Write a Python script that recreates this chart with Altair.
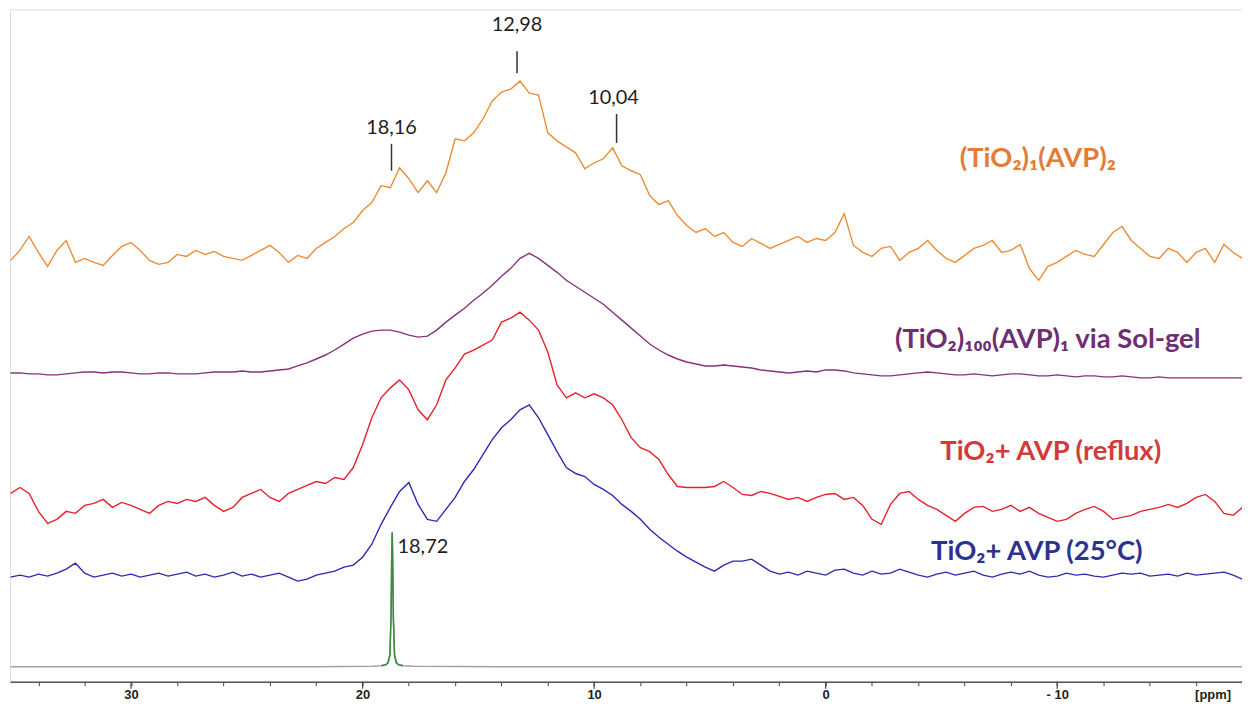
import altair as alt
import pandas as pd
import numpy as np

# ppm sampling grid of the four broad spectra (35.2 ... -18.0 ppm, step 0.4)
PPM_START = 35.2
PPM_STEP = -0.4
N_POINTS = 134

ORANGE = [20, 30, 44, 28, 14, 30, 40, 18, 22, 18,
          15, 25, 34, 38, 30, 20, 16, 18, 26, 24,
          30, 26, 29, 24, 22, 20, 25, 30, 35, 28,
          18, 25, 22, 32, 38, 44, 52, 58, 70, 78,
          95, 93, 113, 102, 88, 100, 88, 108, 142, 140,
          148, 162, 180, 189, 192, 200, 188, 186, 148, 140,
          134, 128, 112, 118, 122, 133, 115, 110, 106, 85,
          76, 80, 65, 55, 48, 52, 44, 48, 38, 34,
          42, 37, 32, 36, 40, 44, 38, 42, 40, 48,
          67, 35, 28, 24, 32, 34, 20, 28, 32, 40,
          30, 22, 18, 25, 32, 35, 40, 28, 30, 36,
          12, 0, 14, 18, 24, 30, 26, 24, 36, 48,
          54, 40, 32, 24, 22, 32, 28, 18, 28, 32,
          18, 36, 28, 22]

PURPLE = [7, 7, 6, 6, 5, 5, 6, 7, 8, 8,
          7, 8, 8, 7, 6, 6, 7, 7, 6, 6,
          6, 7, 8, 8, 8, 9, 8, 8, 9, 10,
          11, 14, 17, 21, 25, 30, 36, 42, 46, 49,
          50, 50, 48, 45, 43, 44, 50, 58, 65, 72,
          80, 87, 95, 104, 112, 122, 127, 122, 115, 108,
          100, 94, 88, 82, 76, 68, 60, 52, 44, 36,
          30, 25, 21, 18, 16, 14, 14, 15, 14, 13,
          12, 10, 9, 8, 7, 8, 9, 8, 10, 10,
          9, 7, 6, 5, 4, 4, 5, 6, 7, 8,
          7, 6, 5, 5, 6, 5, 4, 5, 6, 6,
          5, 4, 4, 5, 4, 3, 4, 4, 3, 3,
          4, 3, 2, 2, 3, 2, 2, 2, 2, 2,
          2, 2, 2, 2]

RED = [36, 42, 36, 18, 6, 10, 18, 16, 24, 26,
       30, 22, 27, 24, 20, 16, 24, 28, 26, 30,
       28, 32, 24, 18, 22, 32, 36, 40, 32, 28,
       36, 40, 44, 48, 46, 52, 50, 62, 85, 112,
       132, 142, 150, 140, 120, 110, 125, 150, 162, 176,
       180, 185, 190, 208, 212, 218, 210, 200, 178, 145,
       132, 137, 132, 136, 132, 125, 110, 92, 82, 78,
       70, 55, 43, 42, 42, 42, 43, 48, 42, 35,
       34, 38, 36, 33, 30, 32, 28, 32, 35, 36,
       30, 32, 24, 10, 5, 25, 36, 38, 30, 24,
       20, 14, 8, 16, 22, 23, 18, 20, 24, 18,
       22, 16, 12, 8, 10, 16, 20, 23, 18, 10,
       12, 14, 18, 20, 22, 25, 22, 26, 32, 35,
       28, 16, 14, 22]

BLUE = [7, 9, 7, 10, 8, 11, 15, 21, 11, 7,
        9, 11, 8, 10, 7, 9, 11, 8, 10, 12,
        8, 10, 7, 9, 12, 8, 10, 7, 9, 11,
        7, 3, 5, 9, 11, 13, 17, 19, 27, 40,
        60, 77, 93, 102, 80, 65, 63, 75, 87, 103,
        115, 130, 145, 157, 165, 175, 180, 167, 150, 133,
        117, 111, 108, 100, 95, 89, 80, 73, 65, 55,
        47, 40, 33, 27, 22, 17, 13, 19, 23, 23,
        25, 19, 13, 10, 12, 9, 13, 11, 9, 14,
        15, 11, 9, 13, 10, 11, 15, 12, 9, 7,
        10, 12, 9, 11, 13, 9, 7, 10, 12, 10,
        13, 9, 7, 8, 11, 9, 10, 8, 7, 9,
        11, 10, 11, 8, 9, 10, 8, 11, 9, 10,
        11, 12, 9, 5]

# sharp reference signal at 18.72 ppm
GREEN_PPM = [35.2, 22.0, 19.6, 19.2, 19.0, 18.9, 18.82, 18.77, 18.74, 18.72,
             18.70, 18.67, 18.62, 18.54, 18.44, 18.25, 17.8, 14.0, -18.0]
GREEN_INT = [0, 0, 0.5, 1, 2, 4, 12, 50, 110, 135,
             110, 50, 12, 4, 2, 1, 0.5, 0, 0]

SERIES = ["orange", "purple", "red", "blue", "green"]
OFFSETS = [405, 305, 155, 100, 17]
LINE_COLORS = ["#ee8c34", "#86327e", "#e5222c", "#2b2bb0", "#a3a3a3"]

LABELS = ["(TiO₂)₁(AVP)₂", "(TiO₂)₁₀₀(AVP)₁ via Sol-gel", "TiO₂+ AVP (reflux)", "TiO₂+ AVP (25°C)"]
LABEL_PPM = [-9.16, -9.59, -9.72, -9.12]
LABEL_Y = [527, 345, 233, 132]
LABEL_COLORS = ["#e37d36", "#6e2f72", "#d43a3a", "#2c338f"]

PEAK_TEXT = ["12,98", "18,16", "10,04"]
PEAK_TEXT_PPM = [13.33, 18.75, 9.16]
PEAK_TEXT_Y = [661, 558, 588]
PEAK_TICK_PPM = [13.33, 18.75, 9.03]
PEAK_TICK_Y1 = [635, 542, 572]
PEAK_TICK_Y2 = [613, 515, 543]

REF_TEXT = "18,72"
REF_TEXT_PPM = 18.49
REF_TEXT_Y = 137

MAJOR_TICKS = [30, 20, 10, 0, -10]
MINOR_TICKS = [34, 32, 30, 28, 26, 24, 22, 20, 18, 16, 14, 12, 10, 8, 6, 4, 2, 0,
               -2, -4, -6, -8, -10, -12, -14, -16]
UNIT_TEXT = "[ppm]"
UNIT_PPM = -16.73
UNIT_Y = -11

ppm_grid = np.round(PPM_START + PPM_STEP * np.arange(N_POINTS), 2)

rows = []
for name, off, vals in zip(SERIES[:4], OFFSETS[:4], [ORANGE, PURPLE, RED, BLUE]):
    for p, v in zip(ppm_grid, vals):
        rows.append({"ppm": float(p), "level": off + v, "series": name})
for p, v in zip(GREEN_PPM, GREEN_INT):
    rows.append({"ppm": p, "level": OFFSETS[4] + v, "series": "green"})
spec_df = pd.DataFrame(rows)

PLOT_W = 1237
PLOT_H = 675
xscale = alt.Scale(domain=[-17.98, 35.226], reverse=True, nice=False, zero=False)
yscale = alt.Scale(domain=[2, 677], nice=False, zero=False)

xaxis = alt.Axis(
    values=MINOR_TICKS,
    labelExpr="datum.value % 10 == 0 ? (datum.value < 0 ? '- ' + abs(datum.value) : datum.value) : ''",
    title=None, grid=False, tickSize=4, tickColor="#444", tickWidth=1,
    domainColor="#555", domainWidth=1.5, labelFont="Liberation Sans",
    labelFontSize=13, labelFontWeight="bold", labelColor="#222", labelPadding=3,
    labelFlush=False, labelOverlap=False,
)

lines = alt.Chart(spec_df).mark_line(strokeWidth=1.4, clip=True).encode(
    x=alt.X("ppm:Q", scale=xscale, axis=xaxis),
    y=alt.Y("level:Q", scale=yscale, axis=None),
    color=alt.Color("series:N", scale=alt.Scale(domain=SERIES, range=LINE_COLORS), legend=None),
    order="ppm:Q",
)

green_peak = alt.Chart(spec_df).transform_filter(
    (alt.datum.series == "green") & (alt.datum.ppm < 19.3) & (alt.datum.ppm > 18.2)
).mark_line(strokeWidth=1.6, color="#3d8c3d", clip=True).encode(
    x=alt.X("ppm:Q", scale=xscale), y=alt.Y("level:Q", scale=yscale), order="ppm:Q"
)

major_df = pd.DataFrame({"ppm": MAJOR_TICKS})
major = alt.Chart(major_df).mark_rule(color="#444", strokeWidth=1.2).encode(
    x=alt.X("ppm:Q", scale=xscale), y=alt.value(PLOT_H), y2=alt.value(PLOT_H + 7)
)

peak_df = pd.DataFrame({"ppm": PEAK_TEXT_PPM, "y": PEAK_TEXT_Y, "text": PEAK_TEXT})
peak_text = alt.Chart(peak_df).mark_text(
    font="Lato", fontSize=20, color="#1e1e1e", align="center", baseline="middle"
).encode(x=alt.X("ppm:Q", scale=xscale), y=alt.Y("y:Q", scale=yscale), text="text:N")

tick_df = pd.DataFrame({"ppm": PEAK_TICK_PPM, "y1": PEAK_TICK_Y1, "y2": PEAK_TICK_Y2})
peak_ticks = alt.Chart(tick_df).mark_rule(color="#333", strokeWidth=1.5).encode(
    x=alt.X("ppm:Q", scale=xscale), y=alt.Y("y1:Q", scale=yscale), y2="y2:Q"
)

ref_df = pd.DataFrame({"ppm": [REF_TEXT_PPM], "y": [REF_TEXT_Y], "text": [REF_TEXT]})
ref_text = alt.Chart(ref_df).mark_text(
    font="Lato", fontSize=20, color="#1e1e1e", align="left", baseline="middle"
).encode(x=alt.X("ppm:Q", scale=xscale), y=alt.Y("y:Q", scale=yscale), text="text:N")

lab_df = pd.DataFrame({"ppm": LABEL_PPM, "y": LABEL_Y, "text": LABELS, "color": LABEL_COLORS})
labels = alt.Chart(lab_df).mark_text(
    font="Lato", fontSize=27.5, fontWeight="bold", align="center", baseline="middle"
).encode(
    x=alt.X("ppm:Q", scale=xscale), y=alt.Y("y:Q", scale=yscale), text="text:N",
    color=alt.Color("color:N", scale=None),
)

unit_df = pd.DataFrame({"ppm": [UNIT_PPM], "y": [UNIT_Y], "text": [UNIT_TEXT]})
unit = alt.Chart(unit_df).mark_text(
    font="Liberation Sans", fontSize=13, fontWeight="bold", color="#222",
    align="center", baseline="middle"
).encode(x=alt.X("ppm:Q", scale=xscale), y=alt.Y("y:Q", scale=yscale), text="text:N")

chart = alt.layer(
    lines, green_peak, major, peak_ticks, peak_text, ref_text, labels, unit
).properties(
    width=PLOT_W, height=PLOT_H,
    padding={"left": 2, "top": 0, "right": 0, "bottom": 0},
).configure_view(stroke=None).configure(background="white")

chart.save("out.html", embed_options={"renderer": "svg", "actions": False})
